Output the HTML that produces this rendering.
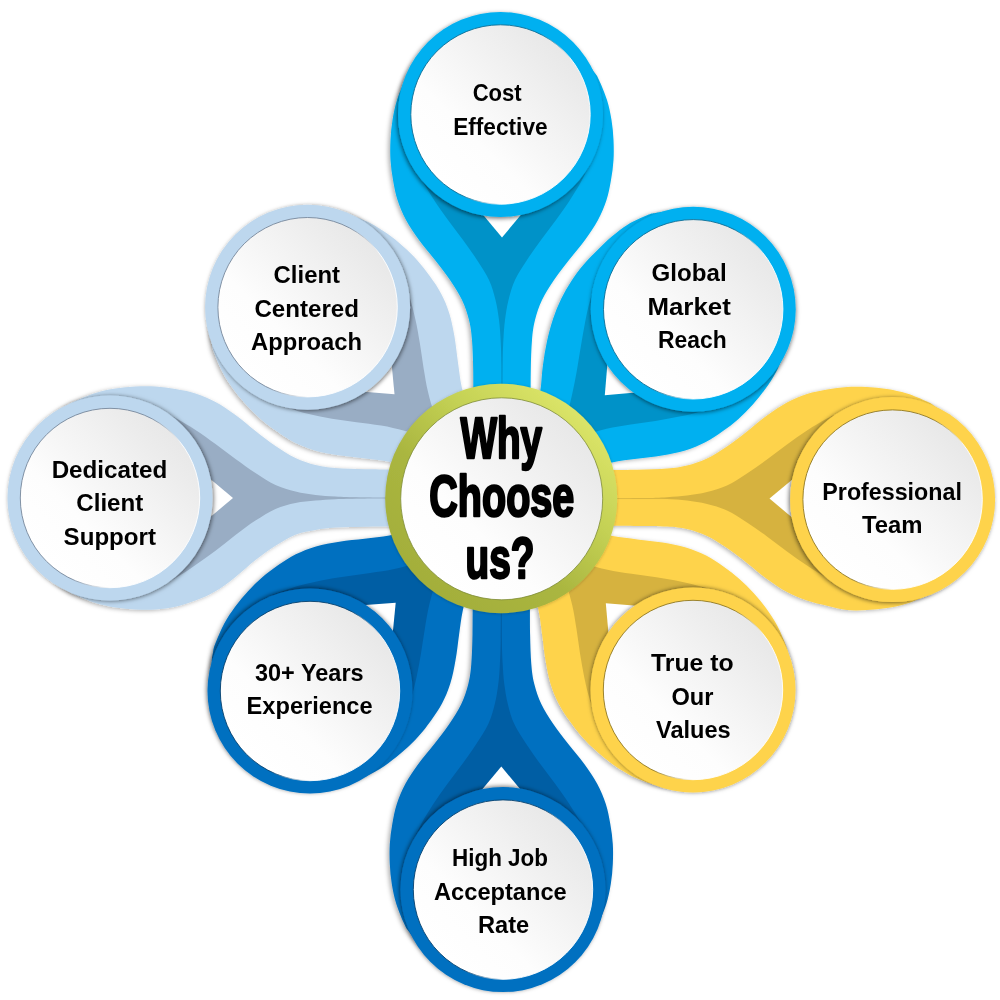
<!DOCTYPE html>
<html lang="en"><head><meta charset="utf-8"><title>Why Choose us?</title>
<style>
html,body{margin:0;padding:0;background:#fff;}
body{width:1000px;height:1000px;overflow:hidden;}
svg{display:block;will-change:transform;}
text{font-family:"Liberation Sans",sans-serif;font-weight:bold;font-size:23.5px;fill:#000;text-anchor:middle;}
.ct{font-size:56.5px;}
</style></head>
<body>
<svg width="1000" height="1000" viewBox="0 0 1000 1000">
<defs>
<linearGradient id="gW" x1="0.15" y1="0.85" x2="0.85" y2="0.15">
<stop offset="0" stop-color="#ffffff"/><stop offset="0.3" stop-color="#fdfdfd"/><stop offset="0.7" stop-color="#f1f1f1"/><stop offset="1" stop-color="#e8e8e8"/>
</linearGradient>
<linearGradient id="gG" x1="0.15" y1="0.9" x2="0.85" y2="0.1">
<stop offset="0" stop-color="#a3ae3a"/><stop offset="0.38" stop-color="#aab640"/><stop offset="0.68" stop-color="#c4d154"/><stop offset="1" stop-color="#dde66a"/>
</linearGradient>
<filter id="shRN" x="-20%" y="-20%" width="140%" height="140%"><feDropShadow dx="-1.2" dy="1.5" stdDeviation="2" flood-color="#000" flood-opacity="0.55"/></filter>
<filter id="shRNE" x="-20%" y="-20%" width="140%" height="140%"><feDropShadow dx="0.3" dy="1.2" stdDeviation="2" flood-color="#000" flood-opacity="0.55"/></filter>
<filter id="shRE" x="-20%" y="-20%" width="140%" height="140%"><feDropShadow dx="-1.2" dy="0.8" stdDeviation="2" flood-color="#000" flood-opacity="0.55"/></filter>
<filter id="shRSE" x="-20%" y="-20%" width="140%" height="140%"><feDropShadow dx="0.0" dy="-0.3" stdDeviation="2" flood-color="#000" flood-opacity="0.55"/></filter>
<filter id="shRS" x="-20%" y="-20%" width="140%" height="140%"><feDropShadow dx="-0.8" dy="-0.8" stdDeviation="2" flood-color="#000" flood-opacity="0.55"/></filter>
<filter id="shRSW" x="-20%" y="-20%" width="140%" height="140%"><feDropShadow dx="-1.0" dy="-1.0" stdDeviation="2" flood-color="#000" flood-opacity="0.55"/></filter>
<filter id="shRW" x="-20%" y="-20%" width="140%" height="140%"><feDropShadow dx="1.2" dy="0.5" stdDeviation="2" flood-color="#000" flood-opacity="0.55"/></filter>
<filter id="shRNW" x="-20%" y="-20%" width="140%" height="140%"><feDropShadow dx="1.0" dy="1.0" stdDeviation="2" flood-color="#000" flood-opacity="0.55"/></filter>
<linearGradient id="gS0A6C94" x1="0.1" y1="0.3" x2="0.9" y2="0.7"><stop offset="0" stop-color="#0A6C94"/><stop offset="0.5" stop-color="#0A6C94"/><stop offset="0.75" stop-color="#ffffff"/></linearGradient>
<linearGradient id="gS8F7720" x1="0.1" y1="0.3" x2="0.9" y2="0.7"><stop offset="0" stop-color="#8F7720"/><stop offset="0.5" stop-color="#8F7720"/><stop offset="0.75" stop-color="#ffffff"/></linearGradient>
<linearGradient id="gS05406E" x1="0.1" y1="0.3" x2="0.9" y2="0.7"><stop offset="0" stop-color="#05406E"/><stop offset="0.5" stop-color="#05406E"/><stop offset="0.75" stop-color="#ffffff"/></linearGradient>
<linearGradient id="gS76879B" x1="0.1" y1="0.3" x2="0.9" y2="0.7"><stop offset="0" stop-color="#76879B"/><stop offset="0.5" stop-color="#76879B"/><stop offset="0.75" stop-color="#ffffff"/></linearGradient>
<filter id="shP" x="-10%" y="-10%" width="120%" height="120%">
<feDropShadow dx="-2" dy="1" stdDeviation="2" flood-color="#000" flood-opacity="0.3"/>
</filter>
<filter id="shC" x="-20%" y="-20%" width="140%" height="140%">
<feDropShadow dx="0" dy="0.5" stdDeviation="1.5" flood-color="#000" flood-opacity="0.22"/>
</filter>
</defs>
<rect width="1000" height="1000" fill="#fff"/>
<g>
<path d="M299.0 216.1 L214.8 301.7 C214.2 306.6 211.3 324.3 210.8 331.4 C210.4 338.6 211.4 340.9 212.0 344.5 C212.6 348.1 212.4 348.3 214.2 353.0 C216.0 357.7 219.5 366.5 222.8 372.7 C226.1 378.9 229.9 384.5 233.9 389.9 C237.9 395.4 242.3 400.5 246.8 405.4 C251.3 410.3 256.0 415.0 261.1 419.4 C266.1 423.8 271.5 427.8 277.1 431.6 C282.6 435.5 288.2 439.3 294.5 442.5 C300.8 445.6 307.4 448.3 314.7 450.4 C322.0 452.5 330.0 453.9 338.1 455.2 C346.2 456.5 354.9 457.1 363.2 458.2 C371.5 459.2 380.1 460.0 388.0 461.5 C395.8 463.0 403.4 464.8 410.3 467.3 C417.2 469.8 423.4 473.0 429.5 476.3 C435.5 479.7 440.0 482.3 446.5 487.5 C453.0 492.7 462.6 502.0 468.4 507.3 C474.2 512.7 479.1 517.7 481.2 519.7 L521.4 478.9 C519.3 476.8 514.3 472.0 508.8 466.3 C503.3 460.6 493.9 451.1 488.6 444.7 C483.3 438.3 480.6 433.8 477.2 427.9 C473.7 421.9 470.4 415.7 467.8 408.8 C465.2 402.0 463.3 394.4 461.6 386.6 C460.0 378.8 459.1 370.2 457.9 361.9 C456.7 353.6 455.9 344.9 454.5 336.8 C453.1 328.8 451.6 320.8 449.3 313.5 C447.1 306.3 444.3 299.7 441.0 293.5 C437.8 287.2 433.9 281.7 429.9 276.2 C426.0 270.7 421.9 265.4 417.4 260.4 C413.0 255.4 408.2 250.8 403.2 246.4 C398.2 242.0 393.0 237.7 387.5 233.8 C382.0 229.9 376.3 226.2 370.1 223.0 C363.9 219.8 354.9 216.4 350.2 214.7 C345.5 212.9 345.3 213.1 341.7 212.6 C338.1 212.1 335.8 211.1 328.6 211.6 C321.5 212.2 303.9 215.4 299.0 216.1Z" fill="#BDD7EE" filter="url(#shP)"/>
<path d="M270.8 401.6 C275.2 403.2 289.2 408.5 297.4 411.0 C305.6 413.4 312.3 414.8 320.1 416.4 C327.9 418.0 336.0 419.2 344.2 420.5 C352.3 421.7 360.8 422.6 368.9 423.8 C377.1 425.0 385.3 426.1 393.0 427.9 C400.7 429.6 408.1 431.5 415.0 434.0 C421.8 436.6 428.1 439.7 434.1 443.1 C440.2 446.4 445.8 450.2 451.2 454.2 C456.6 458.2 461.0 462.2 466.6 467.1 C472.2 472.0 478.9 478.3 484.7 483.7 C490.4 489.1 498.3 496.9 501.0 499.6 L501.6 499.0 C498.9 496.3 490.9 488.6 485.4 482.9 C479.9 477.3 473.5 470.6 468.6 465.1 C463.6 459.6 459.5 455.3 455.4 450.0 C451.3 444.6 447.4 439.1 444.0 433.1 C440.5 427.1 437.3 420.9 434.6 414.1 C432.0 407.3 429.9 399.8 428.1 392.2 C426.2 384.6 425.0 376.3 423.6 368.2 C422.3 360.1 421.2 351.6 419.9 343.5 C418.5 335.4 417.2 327.2 415.4 319.5 C413.7 311.7 412.2 305.1 409.6 296.9 C407.0 288.7 401.5 274.9 399.8 270.5Z" fill="#99ADC4"/>
<path d="M394.5 394.2 L360.8 391.6 L391.3 360.6 Z" fill="#fff"/>
</g>
<g>
<path d="M783.4 300.7 L698.3 216.1 C693.4 215.4 675.7 212.4 668.6 211.9 C661.5 211.4 659.1 212.4 655.5 213.0 C651.9 213.6 651.7 213.3 647.1 215.2 C642.5 217.1 633.8 220.8 628.0 224.4 C622.1 227.9 616.9 232.2 611.8 236.5 C606.7 240.8 602.0 245.6 597.3 250.3 C592.6 255.0 587.8 259.7 583.5 264.8 C579.2 269.9 575.1 275.2 571.4 280.9 C567.6 286.6 564.2 292.6 561.1 298.9 C558.0 305.3 555.3 312.0 553.0 319.0 C550.6 326.1 548.7 333.6 547.0 341.3 C545.3 349.0 544.0 357.1 542.9 365.4 C541.7 373.7 541.6 382.9 540.3 391.1 C539.0 399.2 537.5 407.0 535.2 414.2 C533.0 421.4 530.0 427.9 526.8 434.0 C523.5 440.1 520.7 444.5 515.5 451.0 C510.3 457.5 500.6 467.4 495.5 472.8 C490.5 478.1 486.9 481.5 485.2 483.3 L521.7 519.5 C523.4 517.8 526.8 514.2 532.1 509.1 C537.5 504.1 547.4 494.3 553.8 489.1 C560.2 483.8 564.7 481.1 570.7 477.7 C576.7 474.3 582.9 471.0 589.8 468.5 C596.7 465.9 604.2 464.0 612.0 462.4 C619.9 460.8 628.5 459.9 636.8 458.8 C645.1 457.6 653.8 456.9 661.9 455.5 C669.9 454.1 678.0 452.7 685.2 450.5 C692.4 448.3 699.1 445.5 705.3 442.3 C711.6 439.1 717.1 435.2 722.6 431.3 C728.1 427.4 733.5 423.3 738.5 418.9 C743.5 414.4 748.1 409.7 752.6 404.7 C757.1 399.7 761.3 394.6 765.3 389.1 C769.2 383.6 773.0 377.9 776.2 371.7 C779.4 365.6 782.9 356.6 784.6 351.9 C786.4 347.2 786.2 347.0 786.7 343.4 C787.2 339.8 788.3 337.5 787.7 330.4 C787.2 323.2 784.1 305.6 783.4 300.7Z" fill="#00B0F0" filter="url(#shP)"/>
<path d="M599.6 273.0 C598.0 277.5 592.7 291.4 590.3 299.7 C587.8 308.0 586.6 314.8 585.0 322.7 C583.4 330.5 582.2 338.7 580.8 346.7 C579.4 354.7 578.2 362.9 576.8 370.9 C575.3 378.9 573.8 386.8 572.1 394.5 C570.3 402.1 568.7 409.9 566.2 416.8 C563.8 423.8 560.8 430.3 557.5 436.4 C554.2 442.5 550.7 448.4 546.5 453.6 C542.3 458.8 537.6 462.5 532.4 467.8 C527.1 473.0 520.3 479.9 515.1 485.1 C509.9 490.4 503.5 496.8 501.2 499.2 L501.6 499.6 C503.9 497.3 510.3 490.8 515.6 485.6 C520.9 480.5 528.0 473.9 533.5 468.9 C539.0 463.9 543.4 459.9 548.7 455.8 C554.1 451.8 559.7 447.9 565.7 444.5 C571.7 441.0 577.9 437.8 584.7 435.2 C591.6 432.6 599.0 430.6 606.6 428.8 C614.3 427.0 622.5 425.8 630.7 424.5 C638.8 423.2 647.3 422.2 655.4 420.9 C663.5 419.6 671.7 418.2 679.4 416.6 C687.2 414.9 693.9 413.4 702.0 410.9 C710.2 408.3 724.1 402.8 728.5 401.2Z" fill="#0092C8"/>
<path d="M604.8 395.2 L607.6 361.5 L638.5 392.2 Z" fill="#fff"/>
</g>
<g>
<path d="M700.3 781.9 L784.9 696.8 C785.6 691.9 788.6 674.3 789.1 667.1 C789.6 660.0 788.6 657.6 788.0 654.0 C787.5 650.4 787.6 650.3 785.9 645.6 C784.1 640.9 780.6 632.0 777.3 625.8 C774.1 619.6 770.3 614.0 766.3 608.5 C762.4 603.0 758.0 597.9 753.6 593.0 C749.1 588.0 744.4 583.3 739.4 578.9 C734.4 574.5 729.0 570.4 723.4 566.5 C717.9 562.7 712.3 558.8 706.1 555.6 C699.8 552.4 693.2 549.7 685.9 547.5 C678.7 545.4 670.6 544.0 662.6 542.6 C654.5 541.3 645.8 540.6 637.5 539.5 C629.1 538.4 620.5 537.6 612.7 536.1 C604.9 534.5 597.3 532.6 590.4 530.1 C583.5 527.6 577.3 524.4 571.3 521.0 C565.3 517.6 560.7 514.9 554.3 509.7 C547.8 504.5 538.0 494.9 532.5 489.7 C527.1 484.6 523.4 480.8 521.5 479.0 L481.1 519.6 C482.9 521.5 486.8 525.1 491.9 530.6 C497.1 536.0 506.7 545.8 512.0 552.2 C517.2 558.7 519.9 563.2 523.3 569.2 C526.8 575.2 530.0 581.4 532.6 588.2 C535.1 595.1 537.0 602.7 538.6 610.5 C540.3 618.3 541.1 626.9 542.2 635.2 C543.4 643.5 544.1 652.3 545.5 660.3 C546.9 668.4 548.3 676.4 550.5 683.7 C552.7 690.9 555.5 697.5 558.7 703.8 C561.9 710.0 565.8 715.6 569.7 721.1 C573.6 726.6 577.7 732.0 582.1 737.0 C586.5 742.0 591.3 746.6 596.3 751.1 C601.2 755.5 606.4 759.8 611.9 763.8 C617.4 767.7 623.0 771.4 629.2 774.7 C635.4 777.9 644.3 781.3 649.0 783.1 C653.8 784.9 653.9 784.7 657.5 785.2 C661.1 785.7 663.5 786.8 670.6 786.2 C677.8 785.7 695.4 782.6 700.3 781.9Z" fill="#FED34C" filter="url(#shP)"/>
<path d="M729.5 596.6 C725.1 595.0 711.2 589.6 703.0 587.1 C694.8 584.6 688.1 583.1 680.3 581.5 C672.6 579.9 664.4 578.6 656.3 577.3 C648.2 576.0 639.7 575.1 631.5 573.8 C623.4 572.6 615.1 571.4 607.5 569.7 C599.8 567.9 592.4 565.9 585.5 563.4 C578.7 560.8 572.4 557.6 566.4 554.2 C560.4 550.8 554.8 547.0 549.4 542.9 C544.0 538.9 539.7 534.9 534.1 530.0 C528.6 525.0 521.5 518.5 516.1 513.3 C510.7 508.2 504.0 501.4 501.6 499.0 L501.0 499.6 C503.4 502.0 510.2 508.6 515.4 514.0 C520.6 519.4 527.2 526.4 532.1 532.0 C537.1 537.5 541.1 541.8 545.2 547.2 C549.3 552.6 553.1 558.1 556.6 564.1 C560.0 570.1 563.2 576.4 565.8 583.2 C568.4 590.0 570.4 597.5 572.2 605.1 C574.0 612.8 575.2 621.0 576.5 629.1 C577.8 637.3 578.8 645.8 580.1 653.9 C581.4 662.0 582.8 670.1 584.4 677.9 C586.1 685.7 587.6 692.3 590.1 700.5 C592.7 708.7 598.2 722.6 599.8 727.0Z" fill="#D6B23F"/>
<path d="M605.8 603.3 L639.5 606.1 L608.8 636.9 Z" fill="#fff"/>
</g>
<g>
<path d="M215.8 694.9 L299.8 780.6 C304.7 781.4 322.3 784.6 329.4 785.2 C336.5 785.8 338.9 784.8 342.5 784.3 C346.1 783.8 346.3 784.0 351.0 782.2 C355.8 780.5 364.7 777.1 370.9 774.0 C377.1 770.8 382.8 767.1 388.3 763.2 C393.9 759.3 399.0 755.0 404.0 750.6 C409.0 746.2 413.9 741.6 418.3 736.6 C422.8 731.7 426.9 726.3 430.9 720.8 C434.8 715.3 438.8 709.8 442.0 703.6 C445.2 697.4 448.1 690.8 450.3 683.6 C452.6 676.3 454.1 668.3 455.5 660.3 C457.0 652.2 457.8 643.5 459.0 635.2 C460.2 626.9 461.1 618.3 462.8 610.5 C464.4 602.7 466.4 595.2 469.0 588.3 C471.6 581.4 474.9 575.3 478.4 569.3 C481.9 563.3 484.6 558.8 489.9 552.5 C495.2 546.1 504.9 536.4 510.1 531.0 C515.4 525.5 519.5 521.7 521.4 519.8 L481.2 478.8 C479.3 480.6 475.4 484.7 469.8 489.8 C464.3 494.9 454.4 504.4 447.9 509.6 C441.4 514.7 436.9 517.4 430.8 520.7 C424.8 524.1 418.6 527.3 411.6 529.7 C404.7 532.2 397.2 534.0 389.3 535.5 C381.5 537.0 372.8 537.7 364.5 538.8 C356.2 539.8 347.5 540.4 339.4 541.7 C331.3 543.0 323.3 544.3 316.0 546.4 C308.7 548.5 302.0 551.2 295.8 554.3 C289.5 557.4 283.9 561.3 278.3 565.1 C272.8 568.9 267.3 572.9 262.3 577.3 C257.2 581.7 252.5 586.4 248.0 591.3 C243.5 596.2 239.1 601.3 235.1 606.7 C231.1 612.2 227.3 617.8 224.0 623.9 C220.7 630.1 217.1 638.9 215.3 643.6 C213.5 648.3 213.6 648.5 213.1 652.1 C212.5 655.7 211.4 658.0 211.9 665.2 C212.3 672.3 215.2 690.0 215.8 694.9Z" fill="#0070C0" filter="url(#shP)"/>
<path d="M400.7 726.5 C402.4 722.1 408.0 708.3 410.6 700.1 C413.2 692.0 414.7 685.3 416.5 677.6 C418.2 669.8 419.6 661.7 421.0 653.6 C422.3 645.4 423.4 637.0 424.8 628.9 C426.1 620.7 427.4 612.5 429.2 604.9 C431.1 597.2 433.2 589.8 435.8 583.0 C438.5 576.2 441.7 570.0 445.2 564.0 C448.7 558.0 452.6 552.5 456.7 547.2 C460.8 541.8 464.9 537.5 469.9 532.0 C474.9 526.5 481.5 519.6 486.8 514.2 C492.0 508.8 499.1 502.0 501.6 499.6 L501.0 499.0 C498.5 501.4 491.6 508.4 486.1 513.5 C480.5 518.7 473.5 525.1 467.9 530.0 C462.3 534.9 457.9 538.9 452.5 542.9 C447.1 546.9 441.5 550.7 435.4 554.0 C429.4 557.4 423.1 560.5 416.2 563.0 C409.4 565.5 401.9 567.4 394.3 569.1 C386.6 570.8 378.3 571.9 370.2 573.1 C362.0 574.3 353.5 575.2 345.4 576.4 C337.2 577.6 329.1 578.8 321.3 580.4 C313.5 582.0 306.8 583.4 298.6 585.8 C290.4 588.3 276.4 593.5 272.0 595.1Z" fill="#005EA4"/>
<path d="M395.7 602.7 L392.4 636.4 L362.0 605.3 Z" fill="#fff"/>
</g>
<g>
<path d="M562.0 44.5 L442.0 44.5 C438.0 47.5 423.4 57.8 418.0 62.5 C412.6 67.2 411.7 69.6 409.5 72.5 C407.3 75.4 407.1 75.4 405.0 80.0 C402.9 84.6 399.1 93.3 397.0 100.0 C394.9 106.7 393.6 113.3 392.5 120.0 C391.4 126.7 390.8 133.3 390.5 140.0 C390.2 146.7 390.1 153.3 390.5 160.0 C390.9 166.7 391.8 173.3 393.0 180.0 C394.2 186.7 395.3 193.3 397.5 200.0 C399.7 206.7 402.4 213.3 406.0 220.0 C409.6 226.7 414.2 233.3 419.0 240.0 C423.8 246.7 429.8 253.3 435.0 260.0 C440.2 266.7 445.5 273.3 450.0 280.0 C454.5 286.7 458.8 293.3 462.0 300.0 C465.2 306.7 467.3 313.3 469.0 320.0 C470.7 326.7 471.3 331.8 472.0 340.0 C472.7 348.2 473.0 359.5 473.2 369.5 C473.4 379.5 473.3 387.5 473.4 400.0 C473.5 412.5 473.6 427.9 473.7 444.5 C473.8 461.1 473.9 490.2 473.9 499.3 L530.1 499.3 C530.1 490.2 530.2 461.1 530.3 444.5 C530.4 427.9 530.5 412.5 530.6 400.0 C530.7 387.5 530.6 379.5 530.8 369.5 C531.0 359.5 531.3 348.2 532.0 340.0 C532.7 331.8 533.3 326.7 535.0 320.0 C536.7 313.3 538.8 306.7 542.0 300.0 C545.2 293.3 549.5 286.7 554.0 280.0 C558.5 273.3 563.8 266.7 569.0 260.0 C574.2 253.3 580.2 246.7 585.0 240.0 C589.8 233.3 594.4 226.7 598.0 220.0 C601.6 213.3 604.3 206.7 606.5 200.0 C608.7 193.3 609.8 186.7 611.0 180.0 C612.2 173.3 613.1 166.7 613.5 160.0 C613.9 153.3 613.8 146.7 613.5 140.0 C613.2 133.3 612.6 126.7 611.5 120.0 C610.4 113.3 609.1 106.7 607.0 100.0 C604.9 93.3 601.1 84.6 599.0 80.0 C596.9 75.4 596.7 75.4 594.5 72.5 C592.3 69.6 591.4 67.2 586.0 62.5 C580.6 57.8 566.0 47.5 562.0 44.5Z" fill="#00B0F0" filter="url(#shP)"/>
<path d="M410.0 154.5 C412.0 158.8 418.0 172.4 422.0 180.0 C426.0 187.6 429.7 193.3 434.0 200.0 C438.3 206.7 443.2 213.3 448.0 220.0 C452.8 226.7 458.2 233.3 463.0 240.0 C467.8 246.7 472.7 253.3 477.0 260.0 C481.3 266.7 485.9 273.3 489.0 280.0 C492.1 286.7 493.8 293.3 495.5 300.0 C497.2 306.7 498.1 313.3 499.0 320.0 C499.9 326.7 500.2 332.6 500.6 340.0 C501.0 347.4 501.3 353.8 501.5 364.5 C501.7 375.2 501.7 397.8 501.7 404.5 L502.3 404.5 C502.3 397.8 502.3 375.2 502.5 364.5 C502.7 353.8 503.0 347.4 503.4 340.0 C503.8 332.6 504.1 326.7 505.0 320.0 C505.9 313.3 506.8 306.7 508.5 300.0 C510.2 293.3 511.9 286.7 515.0 280.0 C518.1 273.3 522.7 266.7 527.0 260.0 C531.3 253.3 536.2 246.7 541.0 240.0 C545.8 233.3 551.2 226.7 556.0 220.0 C560.8 213.3 565.7 206.7 570.0 200.0 C574.3 193.3 578.0 187.6 582.0 180.0 C586.0 172.4 592.0 158.8 594.0 154.5Z" fill="#0092C8"/>
<path d="M502.0 329.5 L502.0 499.3" stroke="#0092C8" stroke-width="0.7" fill="none" opacity="0.8"/>
<path d="M502.0 237.5 L480.3 211.6 L523.7 211.6 Z" fill="#fff"/>
</g>
<g>
<path d="M962.5 558.6 L962.5 438.6 C959.5 434.6 949.2 420.0 944.5 414.6 C939.8 409.2 937.4 408.3 934.5 406.1 C931.6 403.9 931.6 403.7 927.0 401.6 C922.4 399.5 913.7 395.7 907.0 393.6 C900.3 391.5 893.7 390.2 887.0 389.1 C880.3 388.0 873.7 387.4 867.0 387.1 C860.3 386.8 853.7 386.7 847.0 387.1 C840.3 387.5 833.7 388.4 827.0 389.6 C820.3 390.8 813.7 391.9 807.0 394.1 C800.3 396.3 793.7 399.0 787.0 402.6 C780.3 406.2 773.7 410.8 767.0 415.6 C760.3 420.4 753.7 426.4 747.0 431.6 C740.3 436.8 733.7 442.1 727.0 446.6 C720.3 451.1 713.7 455.4 707.0 458.6 C700.3 461.8 693.7 463.9 687.0 465.6 C680.3 467.3 675.2 467.9 667.0 468.6 C658.8 469.3 647.5 469.6 637.5 469.8 C627.5 470.0 619.5 469.9 607.0 470.0 C594.5 470.1 580.1 470.2 562.5 470.3 C544.9 470.4 511.5 470.5 501.3 470.6 L501.3 525.1 C511.5 525.2 544.9 525.3 562.5 525.4 C580.1 525.5 594.5 525.6 607.0 525.7 C619.5 525.8 627.5 525.7 637.5 525.9 C647.5 526.0 658.8 525.9 667.0 526.5 C675.2 527.0 680.3 527.5 687.0 529.1 C693.7 530.7 700.3 532.9 707.0 536.1 C713.7 539.3 720.3 543.6 727.0 548.1 C733.7 552.6 740.3 557.9 747.0 563.1 C753.7 568.3 760.3 574.3 767.0 579.1 C773.7 583.9 780.3 588.5 787.0 592.1 C793.7 595.7 800.3 598.3 807.0 600.6 C813.7 602.9 820.3 604.3 827.0 605.8 C833.7 607.4 840.3 609.3 847.0 610.0 C853.7 610.7 860.3 610.4 867.0 610.1 C873.7 609.8 880.3 609.2 887.0 608.1 C893.7 607.0 900.3 605.7 907.0 603.6 C913.7 601.5 922.4 597.7 927.0 595.6 C931.6 593.5 931.6 593.3 934.5 591.1 C937.4 588.9 939.8 588.0 944.5 582.6 C949.2 577.2 959.5 562.6 962.5 558.6Z" fill="#FED34C" filter="url(#shP)"/>
<path d="M852.5 406.6 C848.2 408.6 834.6 414.6 827.0 418.6 C819.4 422.6 813.7 426.3 807.0 430.6 C800.3 434.9 793.7 439.8 787.0 444.6 C780.3 449.4 773.7 454.8 767.0 459.6 C760.3 464.4 753.7 469.3 747.0 473.6 C740.3 477.9 733.7 482.5 727.0 485.6 C720.3 488.7 713.7 490.4 707.0 492.1 C700.3 493.8 693.7 494.8 687.0 495.6 C680.3 496.5 674.4 496.8 667.0 497.2 C659.6 497.6 653.2 497.9 642.5 498.1 C631.8 498.3 609.2 498.3 602.5 498.3 L602.5 498.8 C609.2 498.8 631.8 498.8 642.5 498.8 C653.2 498.8 659.6 498.7 667.0 498.9 C674.4 499.2 680.3 499.5 687.0 500.4 C693.7 501.2 700.3 502.2 707.0 503.9 C713.7 505.5 720.3 507.3 727.0 510.4 C733.7 513.4 740.3 518.0 747.0 522.4 C753.7 526.7 760.3 531.5 767.0 536.4 C773.7 541.2 780.3 546.5 787.0 551.4 C793.7 556.2 800.3 561.0 807.0 565.4 C813.7 569.7 819.4 573.5 827.0 577.7 C834.6 581.9 848.2 588.5 852.5 590.6Z" fill="#D6B23F"/>
<path d="M677.5 498.6 L501.3 498.6" stroke="#D6B23F" stroke-width="0.7" fill="none" opacity="0.8"/>
<path d="M769.5 498.6 L795.4 476.9 L795.4 520.3 Z" fill="#fff"/>
</g>
<g>
<path d="M441.3 959.6 L561.3 959.6 C565.3 956.6 579.9 946.3 585.3 941.6 C590.7 936.9 591.6 934.5 593.8 931.6 C596.0 928.7 596.2 928.7 598.3 924.1 C600.4 919.5 604.2 910.8 606.3 904.1 C608.4 897.4 609.7 890.8 610.8 884.1 C611.9 877.4 612.5 870.8 612.8 864.1 C613.1 857.4 613.2 850.8 612.8 844.1 C612.4 837.4 611.5 830.8 610.3 824.1 C609.1 817.4 608.0 810.8 605.8 804.1 C603.6 797.4 600.9 790.8 597.3 784.1 C593.7 777.4 589.1 770.8 584.3 764.1 C579.5 757.4 573.5 750.8 568.3 744.1 C563.1 737.4 557.8 730.8 553.3 724.1 C548.8 717.4 544.5 710.8 541.3 704.1 C538.1 697.4 536.0 690.8 534.3 684.1 C532.6 677.4 532.0 672.4 531.3 664.1 C530.6 655.9 530.3 644.6 530.1 634.6 C529.9 624.6 530.0 616.6 529.9 604.1 C529.8 591.6 529.7 577.1 529.6 559.6 C529.5 542.1 529.4 509.4 529.3 499.3 L473.3 499.3 C473.2 509.4 473.1 542.1 473.0 559.6 C472.9 577.1 472.8 591.6 472.7 604.1 C472.6 616.6 472.7 624.6 472.5 634.6 C472.3 644.6 472.0 655.9 471.3 664.1 C470.6 672.4 470.0 677.4 468.3 684.1 C466.6 690.8 464.5 697.4 461.3 704.1 C458.1 710.8 453.8 717.4 449.3 724.1 C444.8 730.8 439.5 737.4 434.3 744.1 C429.1 750.8 423.1 757.4 418.3 764.1 C413.5 770.8 408.9 777.4 405.3 784.1 C401.7 790.8 399.0 797.4 396.8 804.1 C394.6 810.8 393.5 817.4 392.3 824.1 C391.1 830.8 390.2 837.4 389.8 844.1 C389.4 850.8 389.5 857.4 389.8 864.1 C390.1 870.8 390.7 877.4 391.8 884.1 C392.9 890.8 394.2 897.4 396.3 904.1 C398.4 910.8 402.2 919.5 404.3 924.1 C406.4 928.7 406.6 928.7 408.8 931.6 C411.0 934.5 411.9 936.9 417.3 941.6 C422.7 946.3 437.3 956.6 441.3 959.6Z" fill="#0070C0" filter="url(#shP)"/>
<path d="M593.3 849.6 C591.3 845.4 585.3 831.7 581.3 824.1 C577.3 816.5 573.6 810.8 569.3 804.1 C565.0 797.4 560.1 790.8 555.3 784.1 C550.5 777.4 545.1 770.8 540.3 764.1 C535.5 757.4 530.6 750.8 526.3 744.1 C522.0 737.4 517.4 730.8 514.3 724.1 C511.2 717.4 509.5 710.8 507.8 704.1 C506.1 697.4 505.2 690.8 504.3 684.1 C503.4 677.4 503.1 671.5 502.7 664.1 C502.3 656.7 502.0 650.4 501.8 639.6 C501.6 628.9 501.6 606.3 501.6 599.6 L501.0 599.6 C501.0 606.3 501.0 628.9 500.8 639.6 C500.6 650.4 500.3 656.7 499.9 664.1 C499.5 671.5 499.2 677.4 498.3 684.1 C497.4 690.8 496.5 697.4 494.8 704.1 C493.1 710.8 491.4 717.4 488.3 724.1 C485.2 730.8 480.6 737.4 476.3 744.1 C472.0 750.8 467.1 757.4 462.3 764.1 C457.5 770.8 452.1 777.4 447.3 784.1 C442.5 790.8 437.6 797.4 433.3 804.1 C429.0 810.8 425.3 816.5 421.3 824.1 C417.3 831.7 411.3 845.4 409.3 849.6Z" fill="#005EA4"/>
<path d="M501.3 674.6 L501.3 499.3" stroke="#005EA4" stroke-width="0.7" fill="none" opacity="0.8"/>
<path d="M501.3 766.6 L523.0 792.5 L479.6 792.5 Z" fill="#fff"/>
</g>
<g>
<path d="M40.0 438.0 L40.0 558.0 C43.0 562.0 53.3 576.6 58.0 582.0 C62.7 587.4 65.1 588.3 68.0 590.5 C70.9 592.7 70.9 592.9 75.5 595.0 C80.1 597.1 88.8 600.9 95.5 603.0 C102.2 605.1 108.8 606.4 115.5 607.5 C122.2 608.6 128.8 609.2 135.5 609.5 C142.2 609.8 148.8 609.9 155.5 609.5 C162.2 609.1 168.8 608.3 175.5 606.8 C182.2 605.4 188.8 603.2 195.5 600.6 C202.2 598.0 208.8 595.3 215.5 591.3 C222.2 587.4 228.8 582.1 235.5 576.9 C242.2 571.6 248.8 565.2 255.5 560.0 C262.2 554.8 268.8 550.0 275.5 545.8 C282.2 541.6 288.8 537.4 295.5 534.8 C302.2 532.2 308.8 531.2 315.5 530.0 C322.2 528.8 327.2 528.1 335.5 527.6 C343.8 527.1 355.0 527.0 365.0 526.8 C375.0 526.6 383.0 526.7 395.5 526.6 C408.0 526.5 422.4 526.4 440.0 526.3 C457.6 526.2 491.1 526.1 501.3 526.0 L501.3 470.0 C491.1 469.9 457.6 469.8 440.0 469.7 C422.4 469.6 408.0 469.5 395.5 469.4 C383.0 469.3 375.0 469.4 365.0 469.2 C355.0 469.0 343.8 468.7 335.5 468.0 C327.2 467.3 322.2 466.7 315.5 465.0 C308.8 463.3 302.2 461.2 295.5 458.0 C288.8 454.8 282.2 450.5 275.5 446.0 C268.8 441.5 262.2 436.2 255.5 431.0 C248.8 425.8 242.2 419.8 235.5 415.0 C228.8 410.2 222.2 405.6 215.5 402.0 C208.8 398.4 202.2 395.7 195.5 393.5 C188.8 391.3 182.2 390.2 175.5 389.0 C168.8 387.8 162.2 386.9 155.5 386.5 C148.8 386.1 142.2 386.2 135.5 386.5 C128.8 386.8 122.2 387.4 115.5 388.5 C108.8 389.6 102.2 390.9 95.5 393.0 C88.8 395.1 80.1 398.9 75.5 401.0 C70.9 403.1 70.9 403.3 68.0 405.5 C65.1 407.7 62.7 408.6 58.0 414.0 C53.3 419.4 43.0 434.0 40.0 438.0Z" fill="#BDD7EE" filter="url(#shP)"/>
<path d="M150.0 590.0 C154.2 588.0 167.9 582.1 175.5 577.9 C183.1 573.8 188.8 569.6 195.5 565.0 C202.2 560.5 208.8 555.7 215.5 550.7 C222.2 545.6 228.8 540.0 235.5 534.9 C242.2 529.9 248.8 524.8 255.5 520.5 C262.2 516.2 268.8 511.8 275.5 508.9 C282.2 506.0 288.8 504.3 295.5 502.9 C302.2 501.5 308.8 501.1 315.5 500.5 C322.2 499.9 328.1 499.5 335.5 499.2 C342.9 498.9 349.2 498.7 360.0 498.5 C370.8 498.3 393.3 498.3 400.0 498.3 L400.0 497.7 C393.3 497.7 370.8 497.7 360.0 497.5 C349.2 497.3 342.9 497.0 335.5 496.6 C328.1 496.2 322.2 495.9 315.5 495.0 C308.8 494.1 302.2 493.2 295.5 491.5 C288.8 489.8 282.2 488.1 275.5 485.0 C268.8 481.9 262.2 477.3 255.5 473.0 C248.8 468.7 242.2 463.8 235.5 459.0 C228.8 454.2 222.2 448.8 215.5 444.0 C208.8 439.2 202.2 434.3 195.5 430.0 C188.8 425.7 183.1 422.0 175.5 418.0 C167.9 414.0 154.2 408.0 150.0 406.0Z" fill="#99ADC4"/>
<path d="M325.0 498.0 L501.3 498.0" stroke="#99ADC4" stroke-width="0.7" fill="none" opacity="0.8"/>
<path d="M233.0 498.0 L207.1 519.7 L207.1 476.3 Z" fill="#fff"/>
</g>
<circle cx="307.6" cy="307.2" r="102.5" fill="#BDD7EE" filter="url(#shRNW)"/>
<circle cx="307.6" cy="307.2" r="89.7" fill="url(#gW)" stroke="url(#gS76879B)" stroke-width="0.9"/>
<text x="306.8" y="283.0" textLength="66.4" lengthAdjust="spacingAndGlyphs">Client</text>
<text x="306.7" y="316.5" textLength="104.6" lengthAdjust="spacingAndGlyphs">Centered</text>
<text x="306.5" y="350.4" textLength="111.0" lengthAdjust="spacingAndGlyphs">Approach</text>
<circle cx="693.2" cy="309.3" r="102.5" fill="#00B0F0" filter="url(#shRNE)"/>
<circle cx="693.2" cy="309.3" r="89.7" fill="url(#gW)" stroke="url(#gS0A6C94)" stroke-width="0.9"/>
<text x="689.1" y="281.0" textLength="75.0" lengthAdjust="spacingAndGlyphs">Global</text>
<text x="689.1" y="314.6" textLength="83.4" lengthAdjust="spacingAndGlyphs">Market</text>
<text x="692.3" y="348.0" textLength="68.6" lengthAdjust="spacingAndGlyphs">Reach</text>
<circle cx="693.0" cy="690.0" r="102.5" fill="#FED34C" filter="url(#shRSE)"/>
<circle cx="693.0" cy="690.0" r="89.7" fill="url(#gW)" stroke="url(#gS8F7720)" stroke-width="0.9"/>
<text x="692.3" y="670.6" textLength="82.6" lengthAdjust="spacingAndGlyphs">True to</text>
<text x="692.5" y="704.5" textLength="42.0" lengthAdjust="spacingAndGlyphs">Our</text>
<text x="693.3" y="738.0" textLength="74.6" lengthAdjust="spacingAndGlyphs">Values</text>
<circle cx="310.0" cy="691.0" r="102.5" fill="#0070C0" filter="url(#shRSW)"/>
<circle cx="310.0" cy="691.0" r="89.7" fill="url(#gW)" stroke="url(#gS05406E)" stroke-width="0.9"/>
<text x="309.3" y="681.0" textLength="108.6" lengthAdjust="spacingAndGlyphs">30+ Years</text>
<text x="309.6" y="714.4" textLength="126.0" lengthAdjust="spacingAndGlyphs">Experience</text>
<circle cx="500.5" cy="114.5" r="102.5" fill="#00B0F0" filter="url(#shRN)"/>
<circle cx="500.5" cy="114.5" r="89.7" fill="url(#gW)" stroke="url(#gS0A6C94)" stroke-width="0.9"/>
<text x="497.2" y="100.6" textLength="49.0" lengthAdjust="spacingAndGlyphs">Cost</text>
<text x="500.4" y="134.5" textLength="94.5" lengthAdjust="spacingAndGlyphs">Effective</text>
<circle cx="892.6" cy="499.6" r="102.5" fill="#FED34C" filter="url(#shRE)"/>
<circle cx="892.6" cy="499.6" r="89.7" fill="url(#gW)" stroke="url(#gS8F7720)" stroke-width="0.9"/>
<text x="892.1" y="500.0" textLength="139.5" lengthAdjust="spacingAndGlyphs">Professional</text>
<text x="892.3" y="533.0" textLength="60.6" lengthAdjust="spacingAndGlyphs">Team</text>
<circle cx="503.0" cy="889.6" r="102.5" fill="#0070C0" filter="url(#shRS)"/>
<circle cx="503.0" cy="889.6" r="89.7" fill="url(#gW)" stroke="url(#gS05406E)" stroke-width="0.9"/>
<text x="500.0" y="865.6" textLength="96.0" lengthAdjust="spacingAndGlyphs">High Job</text>
<text x="500.4" y="899.7" textLength="132.7" lengthAdjust="spacingAndGlyphs">Acceptance</text>
<text x="503.6" y="933.3" textLength="51.3" lengthAdjust="spacingAndGlyphs">Rate</text>
<circle cx="110.0" cy="498.0" r="102.5" fill="#BDD7EE" filter="url(#shRW)"/>
<circle cx="110.0" cy="498.0" r="89.7" fill="url(#gW)" stroke="url(#gS76879B)" stroke-width="0.9"/>
<text x="109.5" y="477.7" textLength="115.7" lengthAdjust="spacingAndGlyphs">Dedicated</text>
<text x="109.8" y="510.8" textLength="67.0" lengthAdjust="spacingAndGlyphs">Client</text>
<text x="109.8" y="544.9" textLength="92.4" lengthAdjust="spacingAndGlyphs">Support</text>
<ellipse cx="501.2" cy="498.5" rx="116" ry="114.8" fill="url(#gG)" filter="url(#shC)"/>
<circle cx="501.7" cy="498.8" r="101" fill="url(#gW)" stroke="#7d8c36" stroke-width="0.8"/>
<g class="ctr">
<text class="ct" transform="translate(501.3 457.8) scale(0.685 1)" x="0" y="0" stroke="#000" stroke-width="2.5" stroke-linejoin="round">Why</text>
<text class="ct" transform="translate(501.8 516) scale(0.7 1)" x="0" y="0" stroke="#000" stroke-width="2.5" stroke-linejoin="round">Choose</text>
<text class="ct" transform="translate(500 578.3) scale(0.685 1)" x="0" y="0" stroke="#000" stroke-width="2.5" stroke-linejoin="round">us?</text>
</g>
</svg>
</body></html>
